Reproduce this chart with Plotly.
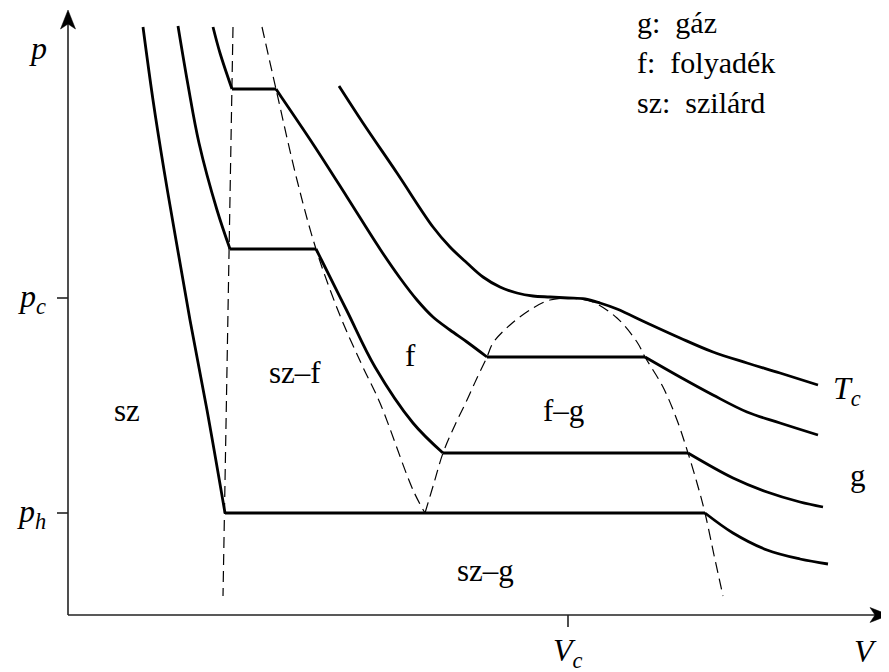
import plotly.graph_objects as go

# ---------------- data (V, p in drawing units) ----------------
# isotherm 1 (lowest temperature) – goes through triple-point pressure p_h
iso1_left_V = [75, 85, 96, 108, 122, 139, 157]
iso1_left_p = [588, 515, 445, 375, 295, 205, 102]
iso1_right_V = [637, 665, 699, 732, 760]
iso1_right_p = [102, 82, 65, 56, 51]

# isotherm 2
iso2_left_V = [110, 120, 131, 149, 162]
iso2_left_p = [589, 530, 472, 405, 366]
iso2_mid_V = [248, 255, 279, 307, 345, 375]
iso2_mid_p = [366, 352, 304, 248, 192, 162]
iso2_right_V = [620, 665, 699, 732, 755]
iso2_right_p = [162, 137, 123, 113, 108]

# isotherm 3
iso3_left_V = [145, 152, 164]
iso3_left_p = [588, 562, 526]
iso3_mid_V = [208, 212, 245, 279, 312, 332, 349, 365, 382, 399, 419]
iso3_mid_p = [526, 520, 471, 418, 366, 337, 315, 298, 285, 273, 258]
iso3_right_V = [577, 612, 645, 679, 712, 750]
iso3_right_p = [258, 238, 220, 203, 192, 180]

# critical isotherm T_c
isoc_V = [271, 295, 329, 365, 382, 399, 415, 432, 449, 465, 482, 500,
          517, 532, 549, 579, 612, 645, 679, 712, 750]
isoc_p = [529, 492, 442, 388, 368, 352, 338, 328, 322, 319, 318, 317,
          316, 312, 306, 292, 277, 263, 252, 242, 230]

# phase boundaries (dashed)
solidus_V = [165, 155]
solidus_p = [588, 19]
liquidus_V = [194, 208, 229, 248, 271, 293, 312, 345, 357]
liquidus_p = [588, 526, 435, 366, 302, 252, 212, 125, 102]
dome_V = [357, 366, 375, 387, 399, 409, 419, 425, 442, 465, 482, 500,
          512, 525, 549, 569, 577, 595, 609, 620, 629, 637, 646, 655]
dome_p = [102, 132, 162, 190, 215, 237, 258, 272, 290, 307, 315, 317,
          316, 313, 297, 273, 258, 228, 195, 162, 132, 102, 60, 19]

# characteristic values / tick labels
V_c = 500
p_c = 317
p_h = 102
tick_vals_p = [p_c, p_h]
tick_text_p = ["<i>p<sub>c</sub></i>", "<i>p<sub>h</sub></i>"]

region_labels = ["sz", "sz–f", "f", "f–g", "sz–g", "g"]
region_V = [59, 227, 342, 495, 417, 790]
region_p = [205, 243, 260, 205, 45, 140]

legend_lines = ["g:\u00a0 gáz", "f:\u00a0 folyadék", "sz:\u00a0 szilárd"]

V_MAX = 821
P_MAX = 605

# ---------------- figure ----------------
FONT = "Liberation Serif"
fig = go.Figure()


def solid(V, p, shape="spline"):
    fig.add_trace(go.Scatter(x=V, y=p, mode="lines",
                             line=dict(color="black", width=2.8, shape=shape, smoothing=1.0),
                             hoverinfo="skip", showlegend=False))


def dashed(V, p, shape="spline"):
    fig.add_trace(go.Scatter(x=V, y=p, mode="lines",
                             line=dict(color="black", width=1.2, dash="11px,6px",
                                       shape=shape, smoothing=1.0),
                             hoverinfo="skip", showlegend=False))


dashed(solidus_V, solidus_p, "linear")
dashed(liquidus_V, liquidus_p)
dashed(dome_V, dome_p)

# isotherm 1
solid(iso1_left_V, iso1_left_p)
solid([iso1_left_V[-1], iso1_right_V[0]], [p_h, p_h], "linear")
solid(iso1_right_V, iso1_right_p)
# isotherm 2
solid(iso2_left_V, iso2_left_p)
solid([iso2_left_V[-1], iso2_mid_V[0]], [iso2_left_p[-1], iso2_mid_p[0]], "linear")
solid(iso2_mid_V, iso2_mid_p)
solid([iso2_mid_V[-1], iso2_right_V[0]], [iso2_mid_p[-1], iso2_right_p[0]], "linear")
solid(iso2_right_V, iso2_right_p)
# isotherm 3
solid(iso3_left_V, iso3_left_p)
solid([iso3_left_V[-1], iso3_mid_V[0]], [iso3_left_p[-1], iso3_mid_p[0]], "linear")
solid(iso3_mid_V, iso3_mid_p)
solid([iso3_mid_V[-1], iso3_right_V[0]], [iso3_mid_p[-1], iso3_right_p[0]], "linear")
solid(iso3_right_V, iso3_right_p)
# critical isotherm
solid(isoc_V, isoc_p)

AX = dict(color="#222", width=1.6)
shapes = [
    dict(type="line", x0=0, y0=0, x1=V_MAX - 8, y1=0, line=AX),
    dict(type="line", x0=0, y0=0, x1=0, y1=P_MAX - 8, line=AX),
    # arrowheads (stealth style)
    dict(type="path", path=f"M {V_MAX},0 L {V_MAX-19},7.5 L {V_MAX-14},0 L {V_MAX-19},-7.5 Z",
         fillcolor="black", line=dict(color="black", width=0.5)),
    dict(type="path", path=f"M 0,{P_MAX} L 7.5,{P_MAX-19} L 0,{P_MAX-14} L -7.5,{P_MAX-19} Z",
         fillcolor="black", line=dict(color="black", width=0.5)),
    # ticks
    dict(type="line", x0=V_c, y0=0, x1=V_c, y1=-12, line=AX),
]
for pv in tick_vals_p:
    shapes.append(dict(type="line", x0=-11, y0=pv, x1=0, y1=pv, line=AX))

LBL = dict(family=FONT, size=32, color="black")
ann = []
for t, pv in zip(tick_text_p, tick_vals_p):
    ann.append(dict(x=-20, y=pv, text=t, xanchor="right", yanchor="middle",
                    showarrow=False, font=LBL))
ann.append(dict(x=-30, y=567, text="<i>p</i>", showarrow=False, font=LBL))
ann.append(dict(x=V_c, y=-37, text="<i>V<sub>c</sub></i>", showarrow=False, font=LBL))
ann.append(dict(x=797, y=-36, text="<i>V</i>", showarrow=False, font=LBL))
ann.append(dict(x=779, y=225, text="<i>T<sub>c</sub></i>", showarrow=False, font=LBL))
for t, v, pv in zip(region_labels, region_V, region_p):
    ann.append(dict(x=v, y=pv, text=t, showarrow=False,
                    font=dict(family=FONT, size=31, color="black")))
for i, t in enumerate(legend_lines):
    ann.append(dict(x=567, y=593 - 40 * i, text=t, xanchor="left", yanchor="middle",
                    showarrow=False, font=dict(family=FONT, size=30, color="black")))

# the page places the figure 8 px from the window's top-left corner
fig.update_layout(
    width=881, height=664,
    margin=dict(l=0, r=0, t=0, b=0),
    paper_bgcolor="white", plot_bgcolor="white",
    xaxis=dict(range=[-60, V_MAX], visible=False, fixedrange=True),
    yaxis=dict(range=[-57, 607], visible=False, fixedrange=True),
    shapes=shapes, annotations=ann, showlegend=False,
)

fig.write_html("out.html")
